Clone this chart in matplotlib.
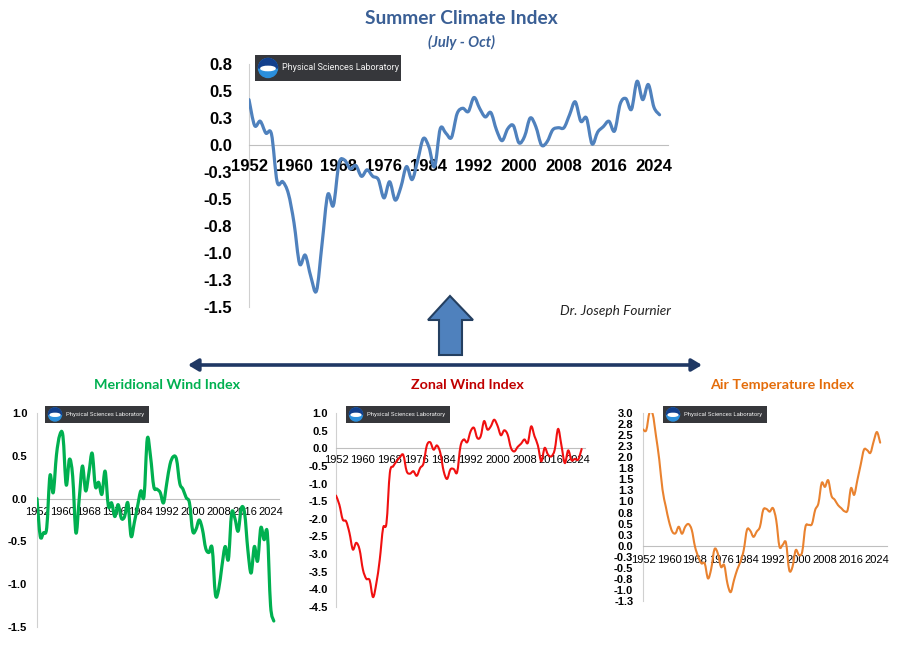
import matplotlib
matplotlib.use("Agg")
import matplotlib.pyplot as plt
import numpy as np
from matplotlib.patches import Polygon, Circle, Wedge, Ellipse, Rectangle, PathPatch
from matplotlib.path import Path

# annees (categories) et valeurs
years = list(range(1952, 2026))

summer = [0.42, 0.18, 0.22, 0.11, 0.10, -0.34, -0.34, -0.45, -0.72, -1.10,
          -1.02, -1.22, -1.35, -0.91, -0.46, -0.56, -0.17, -0.14, -0.22, -0.19,
          -0.29, -0.23, -0.29, -0.32, -0.49, -0.34, -0.51, -0.39, -0.20, -0.32,
          -0.14, 0.06, -0.02, -0.20, 0.15, 0.11, 0.07, 0.29, 0.34, 0.31,
          0.44, 0.34, 0.26, 0.30, 0.14, 0.04, 0.15, 0.18, 0.02, 0.08,
          0.25, 0.17, 0.00, 0.03, 0.14, 0.16, 0.16, 0.28, 0.40, 0.22,
          0.25, 0.01, 0.12, 0.17, 0.22, 0.13, 0.38, 0.43, 0.33, 0.59,
          0.42, 0.56, 0.35, 0.28]

meridional = [0.00, -0.44, -0.40, -0.34, 0.27, 0.07, 0.51, 0.74, 0.73, 0.16,
              0.46, 0.26, -0.40, -0.01, 0.38, 0.09, 0.30, 0.53, 0.14, 0.19,
              0.05, 0.32, -0.09, -0.05, -0.21, -0.07, -0.23, -0.21, -0.05, -0.44,
              -0.28, -0.09, 0.09, 0.03, 0.70, 0.49, 0.14, 0.11, 0.07, -0.05,
              0.18, 0.40, 0.49, 0.46, 0.18, 0.11, 0.01, -0.05, -0.38, -0.36,
              -0.25, -0.36, -0.58, -0.63, -0.58, -1.12, -1.06, -0.79, -0.56, -0.71,
              -0.17, -0.23, -0.38, -0.11, -0.17, -0.60, -0.87, -0.56, -0.73, -0.34,
              -0.48, -0.40, -1.25, -1.43]

zonal = [-1.34, -1.60, -2.02, -2.07, -2.40, -2.87, -2.68, -2.87, -3.44, -3.70,
         -3.74, -4.22, -3.82, -3.16, -2.26, -2.12, -0.70, -0.51, -0.37, -0.25,
         -0.19, -0.65, -0.72, -0.65, -0.78, -0.56, -0.43, 0.08, 0.17, -0.04,
         0.08, -0.13, -0.65, -0.87, -0.60, -0.59, -0.68, 0.06, 0.25, 0.17,
         0.48, 0.58, 0.29, 0.34, 0.77, 0.53, 0.62, 0.81, 0.64, 0.37,
         0.51, 0.39, 0.01, -0.09, 0.04, 0.13, 0.25, 0.15, 0.62, 0.34,
         0.08, -0.37, 0.01, -0.18, -0.23, -0.04, 0.55, 0.08, -0.42, -0.06,
         -0.34, -0.30, -0.32, -0.02]

air = [2.63, 2.61, 3.01, 2.97, 2.48, 1.95, 1.27, 0.89, 0.55, 0.32,
       0.28, 0.43, 0.27, 0.43, 0.49, 0.36, -0.02, -0.25, -0.40, -0.40,
       -0.74, -0.52, -0.08, -0.17, -0.48, -0.44, -0.86, -1.05, -0.78, -0.54,
       -0.36, -0.10, 0.36, 0.34, 0.20, 0.32, 0.43, 0.81, 0.83, 0.77,
       0.85, 0.58, -0.02, 0.02, 0.07, -0.55, -0.48, -0.10, -0.21, -0.14,
       0.43, 0.47, 0.49, 0.81, 0.96, 1.42, 1.33, 1.48, 1.13, 1.04,
       0.92, 0.85, 0.78, 0.81, 1.30, 1.15, 1.49, 1.83, 2.17, 2.16,
       2.10, 2.36, 2.57, 2.33]

xtick_years = [1952, 1960, 1968, 1976, 1984, 1992, 2000, 2008, 2016, 2024]

summer_yticks = [0.75, 0.5, 0.25, 0.0, -0.25, -0.5, -0.75, -1.0, -1.25, -1.5]
summer_ylabels = ["0.8", "0.5", "0.3", "0.0", "-0.3", "-0.5", "-0.8", "-1.0", "-1.3", "-1.5"]
merid_yticks = [1.0, 0.5, 0.0, -0.5, -1.0, -1.5]
merid_ylabels = ["1.0", "0.5", "0.0", "-0.5", "-1.0", "-1.5"]
zonal_yticks = [1.0, 0.5, 0.0, -0.5, -1.0, -1.5, -2.0, -2.5, -3.0, -3.5, -4.0, -4.5]
zonal_ylabels = ["1.0", "0.5", "0.0", "-0.5", "-1.0", "-1.5", "-2.0", "-2.5",
                 "-3.0", "-3.5", "-4.0", "-4.5"]
air_yticks = [3.0, 2.75, 2.5, 2.25, 2.0, 1.75, 1.5, 1.25, 1.0, 0.75, 0.5, 0.25,
              0.0, -0.25, -0.5, -0.75, -1.0, -1.25]
air_ylabels = ["3.0", "2.8", "2.5", "2.3", "2.0", "1.8", "1.5", "1.3", "1.0", "0.8",
               "0.5", "0.3", "0.0", "-0.3", "-0.5", "-0.8", "-1.0", "-1.3"]

W, H = 897, 651


def rect(l, t, r, b):
    # pixels -> fractions de figure
    return [l / W, 1 - b / H, (r - l) / W, (b - t) / H]


def smooth_line(ax, x, y, **kw):
    # ligne lissee facon Excel : courbes de Bezier passant par chaque point
    p = np.column_stack([x, y]).astype(float)
    ext = np.vstack([p[0], p, p[-1]])
    verts = [tuple(p[0])]
    codes = [Path.MOVETO]
    for i in range(len(p) - 1):
        a, b, c, d = ext[i], ext[i + 1], ext[i + 2], ext[i + 3]
        verts += [tuple(b + (c - a) / 6), tuple(c - (d - b) / 6), tuple(c)]
        codes += [Path.CURVE4] * 3
    ax.add_patch(PathPatch(Path(verts, codes), fill=False, zorder=3,
                           capstyle="round", joinstyle="round", **kw))


def index_plot(box, vals, color, lw, yticks, ylabels, xmax, fs, bold_x, xpad, ypad):
    ax = fig.add_axes(rect(*box))
    ax.patch.set_alpha(0)
    smooth_line(ax, years, vals, edgecolor=color, lw=lw)
    ax.set_xlim(1952, xmax)
    ax.set_ylim(yticks[-1], yticks[0])
    for s in ["top", "right"]:
        ax.spines[s].set_visible(False)
    ax.spines["bottom"].set_position(("data", 0))
    ax.spines["bottom"].set_color("#BFBFBF")
    ax.spines["left"].set_color("#D0D0D0")
    ax.set_xticks(xtick_years)
    ax.set_xticklabels([str(y) for y in xtick_years], fontsize=fs,
                       fontweight="bold" if bold_x else "normal",
                       family="Liberation Sans")
    ax.set_yticks(yticks)
    ax.set_yticklabels(ylabels, fontsize=fs, fontweight="bold", family="Liberation Sans")
    ax.tick_params(axis="x", length=0, pad=xpad)
    ax.tick_params(axis="y", length=0, pad=ypad)
    return ax


def logo(l, t, r, b, rad, fs):
    w, h = r - l, b - t
    lg = fig.add_axes(rect(l, t, r, b))
    lg.set_xlim(0, w)
    lg.set_ylim(0, h)
    lg.set_axis_off()
    lg.add_patch(Rectangle((0, 0), w, h, color="#36373b"))
    cx, cy = rad + 3.5, h / 2
    lg.add_patch(Circle((cx, cy), rad, color="#2b8fdc"))
    lg.add_patch(Wedge((cx, cy), rad, 0, 180, color="#123f8c"))
    lg.add_patch(Ellipse((cx, cy - rad * 0.05), rad * 1.5, rad * 0.45, color="white"))
    lg.text(cx + rad + 4, cy, "Physical Sciences Laboratory", color="#f2f2f2",
            fontsize=fs, va="center", ha="left", family="Roboto")


fig = plt.figure(figsize=(W / 100, H / 100), dpi=100)
fig.patch.set_facecolor("white")

index_plot((249, 64, 668, 307), summer, "#4F81BD", 2.3, summer_yticks, summer_ylabels,
           2026.5, 12, True, 10, 12)
index_plot((37, 413, 279, 627), meridional, "#00B050", 2.3, merid_yticks, merid_ylabels,
           2026.6, 8, False, 6, 7)
index_plot((336, 413, 585, 607), zonal, "#F01010", 1.5, zonal_yticks, zonal_ylabels,
           2026, 8, False, 5, 6)
index_plot((643, 413, 887, 601), air, "#E9822F", 1.5, air_yticks, air_ylabels,
           2027.1, 8, False, 7, 7)

logo(255, 55, 401, 81, 9.5, 6.5)
logo(45, 406, 149, 423, 6.5, 4.3)
logo(346, 406, 450, 423, 6.5, 4.3)
logo(663, 406, 767, 423, 6.5, 4.3)

# calque pour titres et fleches
ov = fig.add_axes([0, 0, 1, 1])
ov.set_xlim(0, W)
ov.set_ylim(H, 0)
ov.set_axis_off()

ov.text(461, 19, "Summer Climate Index", color="#3A5F95", fontsize=13.8,
        fontweight="bold", family="Lato", ha="center", va="center")
ov.text(461, 42, "(July - Oct)", color="#3A5F95", fontsize=10.5, fontweight="bold",
        style="italic", family="Lato", ha="center", va="center")
ov.text(615, 311, "Dr. Joseph Fournier", color="#222222", fontsize=9.8,
        style="italic", family="Lato", ha="center", va="center")

ov.text(167, 385, "Meridional Wind Index", color="#00B050", fontsize=10.3,
        fontweight="bold", family="Lato", ha="center", va="center")
ov.text(467, 385, "Zonal Wind Index", color="#C00000", fontsize=10.3,
        fontweight="bold", family="Lato", ha="center", va="center")
ov.text(782, 385, "Air Temperature Index", color="#E46C0A", fontsize=10.3,
        fontweight="bold", family="Lato", ha="center", va="center")

up = Polygon([(450, 296), (428, 320), (439, 320), (439, 355), (462, 355), (462, 320),
              (473, 320)], closed=True, facecolor="#4F81BD", edgecolor="#243F60", lw=1.5)
ov.add_patch(up)
ov.annotate("", xy=(188, 365), xytext=(702, 365),
            arrowprops=dict(arrowstyle="<|-|>,head_length=0.5,head_width=0.3",
                            color="#1F3864", lw=2.6, mutation_scale=12,
                            shrinkA=0, shrinkB=0))

fig.savefig("out.png", dpi=100)
